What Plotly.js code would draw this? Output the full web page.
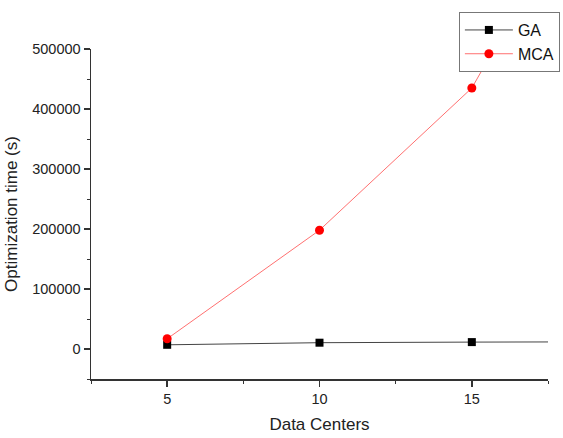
<!DOCTYPE html>
<html>
<head>
<meta charset="utf-8">
<script src="https://cdn.plot.ly/plotly-3.0.1.min.js"></script>
<style>html,body{margin:0;padding:0;background:#fff;}</style>
</head>
<body>
<div id="chart" style="width:563px;height:438px;"></div>
<script>
const dataCenters = [5, 10, 15, 20];
const gaTime = [7000, 10500, 11500, 12000];
const mcaTime = [17000, 198000, 435000, 880000];
const seriesNames = ["GA", "MCA"];

const traces = [
  {
    x: dataCenters, y: gaTime, name: seriesNames[0], type: 'scatter', mode: 'lines+markers',
    line: {color: '#444', width: 1},
    marker: {symbol: 'square', size: 8, color: '#000'},
    cliponaxis: true
  },
  {
    x: dataCenters, y: mcaTime, name: seriesNames[1], type: 'scatter', mode: 'lines+markers',
    line: {color: '#ff7070', width: 1},
    marker: {symbol: 'circle', size: 9, color: '#ff0000'},
    cliponaxis: true
  }
];

const layout = {
  width: 563, height: 438,
  margin: {l: 91, r: 15, t: 49, b: 59, autoexpand: false},
  paper_bgcolor: '#fff', plot_bgcolor: '#fff',
  font: {family: 'Liberation Sans, Arial, sans-serif', color: '#222'},
  showlegend: true,
  legend: {
    x: 1.026, xanchor: 'right', y: 1.112, yanchor: 'top',
    bordercolor: '#777', borderwidth: 1, bgcolor: '#fff',
    font: {size: 16, color: '#111'}, tracegroupgap: 0,
    itemwidth: 48
  },
  xaxis: {
    range: [2.5, 17.5], tickvals: [5, 10, 15], ticktext: ['5', '10', '15'],
    showgrid: false, zeroline: false, showline: true, linecolor: '#333', linewidth: 1.5,
    ticks: 'outside', ticklen: 6, tickcolor: '#333', tickwidth: 1.5,
    tickfont: {size: 14.5, color: '#222'},
    minor: {tickvals: [2.5, 7.5, 12.5, 17.5], ticks: 'outside', ticklen: 3, tickcolor: '#333', tickwidth: 1},
    title: {text: 'Data Centers', font: {size: 17, color: '#222'}, standoff: 12}
  },
  yaxis: {
    range: [-50000, 500000], tickvals: [0, 100000, 200000, 300000, 400000, 500000],
    ticktext: ['0', '100000', '200000', '300000', '400000', '500000'],
    showgrid: false, zeroline: false, showline: true, linecolor: '#333', linewidth: 1.5,
    ticks: 'outside', ticklen: 6, tickcolor: '#333', tickwidth: 1.5,
    tickfont: {size: 14.5, color: '#222'},
    minor: {tickvals: [-50000, 50000, 150000, 250000, 350000, 450000], ticks: 'outside', ticklen: 3, tickcolor: '#333', tickwidth: 1},
    title: {text: 'Optimization time (s)', font: {size: 17, color: '#222'}, standoff: 10}
  }
};

Plotly.newPlot('chart', traces, layout, {displayModeBar: false, staticPlot: true});
</script>
</body>
</html>
